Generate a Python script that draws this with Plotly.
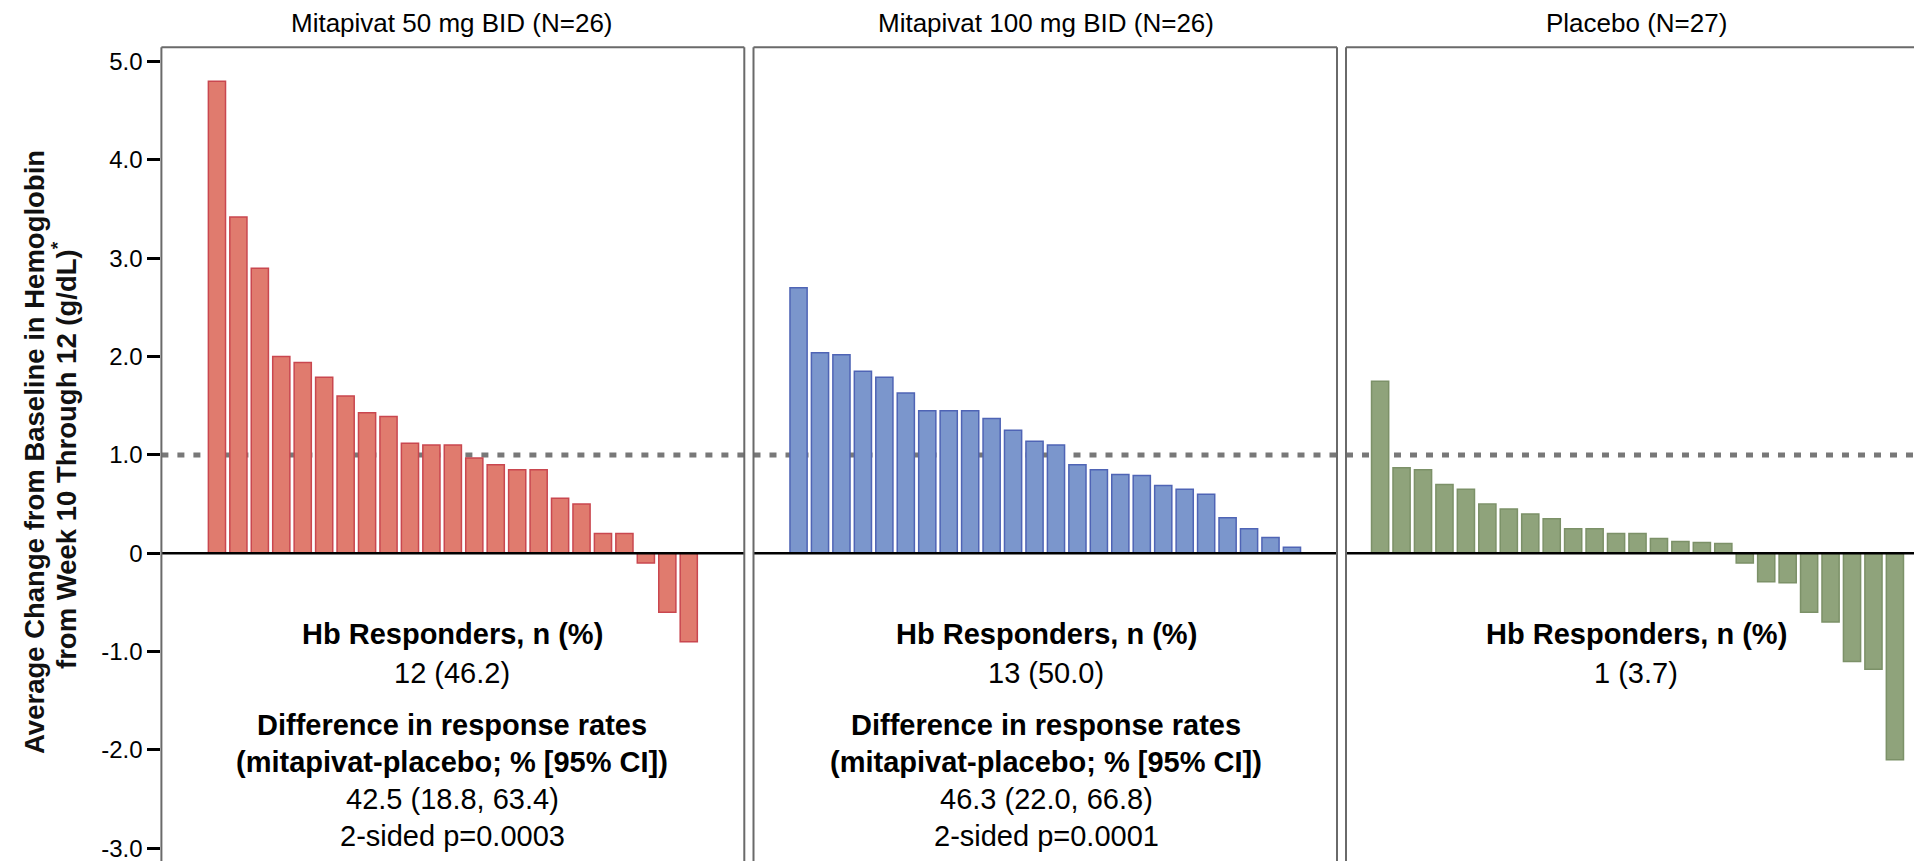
import plotly.graph_objects as go

# ---------------- data ----------------
panel_titles = ["Mitapivat 50 mg BID (N=26)", "Mitapivat 100 mg BID (N=26)", "Placebo (N=27)"]

mit50_values = [4.80, 3.42, 2.90, 2.00, 1.94, 1.79, 1.60, 1.43, 1.39, 1.12, 1.10, 1.10,
                0.97, 0.90, 0.85, 0.85, 0.56, 0.50, 0.20, 0.20, -0.10, -0.60, -0.90]
mit100_values = [2.70, 2.04, 2.02, 1.85, 1.79, 1.63, 1.45, 1.45, 1.45, 1.37, 1.25, 1.14,
                 1.10, 0.90, 0.85, 0.80, 0.79, 0.69, 0.65, 0.60, 0.36, 0.25, 0.16, 0.06]
placebo_values = [1.75, 0.87, 0.85, 0.70, 0.65, 0.50, 0.45, 0.40, 0.35, 0.25, 0.25, 0.20,
                  0.20, 0.15, 0.12, 0.11, 0.10, -0.10, -0.29, -0.30, -0.60, -0.70, -1.10,
                  -1.18, -2.10]

responder_threshold = 1.0

ytick_vals = [5, 4, 3, 2, 1, 0, -1, -2, -3]
ytick_text = ["5.0", "4.0", "3.0", "2.0", "1.0", "0", "-1.0", "-2.0", "-3.0"]

responder_header = "Hb Responders, n (%)"
responder_counts = ["12 (46.2)", "13 (50.0)", "1 (3.7)"]
diff_header_1 = "Difference in response rates"
diff_header_2 = "(mitapivat-placebo; % [95% CI])"
diff_values = ["42.5 (18.8, 63.4)", "46.3 (22.0, 66.8)", None]
p_values = ["2-sided p=0.0003", "2-sided p=0.0001", None]

y_title_1 = "Average Change from Baseline in Hemoglobin"
y_title_2 = "from Week 10 Through 12 (g/dL)<sup>*</sup>"

# ---------------- styling ----------------
W, H = 1914, 861
FONT = "Liberation Sans, Arial, Helvetica, sans-serif"
fills = ["#E07B6E", "#7B96CC", "#8FA37B"]
edges = ["#C9474F", "#4F64B5", "#7C9168"]

def px_x(p):
    return p / W

def px_y(p):
    return 1 - p / H

# panel pixel extents
panel_px = [(161.4, 744.3), (753.5, 1337.0), (1346.0, 1914.0)]
x_ranges = [[-1.59, 25.59], [-1.10, 26.10], [-0.59, 25.89]]
text_centers_px = [452.0, 1046.0, 1636.0]
plot_top_px = 47.3

fig = go.Figure()
series = [mit50_values, mit100_values, placebo_values]
axis_names = ["x", "x2", "x3"]
for i, vals in enumerate(series):
    fig.add_trace(go.Bar(
        x=list(range(1, len(vals) + 1)), y=vals,
        xaxis=axis_names[i], yaxis="y",
        width=0.8,
        marker=dict(color=fills[i], line=dict(color=edges[i], width=1.5)),
        showlegend=False, hoverinfo="y",
    ))

layout = dict(
    width=W, height=H,
    margin=dict(l=0, r=0, t=0, b=0),
    paper_bgcolor="white", plot_bgcolor="white",
    bargap=0.2,
    font=dict(family=FONT, color="black"),
    yaxis=dict(
        domain=[0, px_y(plot_top_px)], range=[-3.13, 5.146],
        tickvals=ytick_vals, ticktext=ytick_text,
        ticks="outside", ticklen=13, tickwidth=2.5, tickcolor="black",
        tickfont=dict(family=FONT, size=24, color="black"),
        ticklabeloverflow="allow",
        showgrid=False, zeroline=False, showline=False,
        anchor="x", fixedrange=True,
    ),
)
for i, name in enumerate(["xaxis", "xaxis2", "xaxis3"]):
    layout[name] = dict(
        domain=[px_x(panel_px[i][0]), px_x(panel_px[i][1])],
        range=x_ranges[i], visible=False, anchor="y", fixedrange=True,
        showgrid=False, zeroline=False,
    )
fig.update_layout(**layout)

shapes = []
frame_col = "#6a6a6a"
for i, (x0, x1) in enumerate(panel_px):
    xr = "x" if i == 0 else f"x{i+1}"
    # dotted responder threshold (behind bars)
    shapes.append(dict(type="line", xref=f"{xr} domain", yref="y", x0=0, x1=1,
                       y0=responder_threshold, y1=responder_threshold,
                       line=dict(color="#787878", width=5, dash="7px,9px"), layer="below"))
    # zero line
    shapes.append(dict(type="line", xref=f"{xr} domain", yref="y", x0=0, x1=1,
                       y0=0, y1=0, line=dict(color="black", width=2.5), layer="above"))
    # frame
    shapes.append(dict(type="line", xref="paper", yref="paper", x0=px_x(x0), x1=px_x(x1) if i < 2 else 1.01,
                       y0=px_y(plot_top_px), y1=px_y(plot_top_px),
                       line=dict(color=frame_col, width=2), layer="above"))
    shapes.append(dict(type="line", xref="paper", yref="paper", x0=px_x(x0), x1=px_x(x0),
                       y0=px_y(plot_top_px), y1=-0.05,
                       line=dict(color=frame_col, width=2), layer="above"))
    if i < 2:
        shapes.append(dict(type="line", xref="paper", yref="paper", x0=px_x(x1), x1=px_x(x1),
                           y0=px_y(plot_top_px), y1=-0.05,
                           line=dict(color=frame_col, width=2), layer="above"))
fig.update_layout(shapes=shapes)

ann = []
title_y_px = 22.5
TS = 29  # annotation text size
for i in range(3):
    cx = px_x(text_centers_px[i])
    ann.append(dict(text=panel_titles[i], x=cx, y=px_y(title_y_px), xref="paper", yref="paper",
                    showarrow=False, xanchor="center", yanchor="middle",
                    font=dict(family=FONT, size=26, color="black")))
    ann.append(dict(text=f"<b>{responder_header}</b>", x=cx, y=px_y(634), xref="paper", yref="paper",
                    showarrow=False, xanchor="center", yanchor="middle",
                    font=dict(family=FONT, size=TS, color="black")))
    ann.append(dict(text=responder_counts[i], x=cx, y=px_y(672.5), xref="paper", yref="paper",
                    showarrow=False, xanchor="center", yanchor="middle",
                    font=dict(family=FONT, size=TS, color="black")))
    if diff_values[i] is not None:
        ann.append(dict(text=f"<b>{diff_header_1}</b>", x=cx, y=px_y(725), xref="paper", yref="paper",
                        showarrow=False, xanchor="center", yanchor="middle",
                        font=dict(family=FONT, size=TS, color="black")))
        ann.append(dict(text=f"<b>{diff_header_2}</b>", x=cx, y=px_y(762), xref="paper", yref="paper",
                        showarrow=False, xanchor="center", yanchor="middle",
                        font=dict(family=FONT, size=TS, color="black")))
        ann.append(dict(text=diff_values[i], x=cx, y=px_y(799), xref="paper", yref="paper",
                        showarrow=False, xanchor="center", yanchor="middle",
                        font=dict(family=FONT, size=TS, color="black")))
        ann.append(dict(text=p_values[i], x=cx, y=px_y(835.5), xref="paper", yref="paper",
                        showarrow=False, xanchor="center", yanchor="middle",
                        font=dict(family=FONT, size=TS, color="black")))

# y-axis title (two rotated lines)
ann.append(dict(text=f"<b>{y_title_1}</b>", x=px_x(34), y=px_y(452), xref="paper", yref="paper",
                showarrow=False, textangle=-90, xanchor="center", yanchor="middle",
                font=dict(family=FONT, size=27.5, color="#111")))
ann.append(dict(text=f"<b>{y_title_2}</b>", x=px_x(64), y=px_y(455), xref="paper", yref="paper",
                showarrow=False, textangle=-90, xanchor="center", yanchor="middle",
                font=dict(family=FONT, size=27.5, color="#111")))
fig.update_layout(annotations=ann)

fig.write_html("out.html", config={"displayModeBar": False},
               post_script="document.body.style.margin='0px';document.body.style.overflow='hidden';")
